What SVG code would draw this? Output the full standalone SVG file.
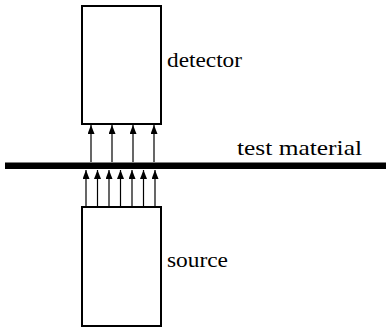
<svg xmlns="http://www.w3.org/2000/svg" width="386" height="327" viewBox="0 0 386 327">
<defs>
<style>
.box{fill:#fff;stroke:#000;stroke-width:2}
.ray{stroke:#000;stroke-width:1.2;fill:none;marker-end:url(#ah)}
.lbl{font-size:21px;fill:#000}
</style>
<marker id="ah" viewBox="0 0 9 7" refX="9" refY="3.5" markerWidth="9" markerHeight="7" markerUnits="userSpaceOnUse" orient="auto">
<path d="M0,0 L9,3.5 L0,7 Z" fill="#000"/>
</marker>
</defs>
<rect x="0" y="0" width="386" height="327" fill="#fff"/>
<g id="detector">
<rect class="box" x="82" y="6" width="79" height="118"/>
<text class="lbl" font-family="Liberation Serif, DejaVu Serif, serif" x="167" y="67" textLength="75" lengthAdjust="spacingAndGlyphs">detector</text>
</g>
<g id="source">
<rect class="box" x="82" y="207" width="79" height="119"/>
<text class="lbl" font-family="Liberation Serif, DejaVu Serif, serif" x="167" y="267" textLength="61" lengthAdjust="spacingAndGlyphs">source</text>
</g>
<g id="test-material">
<rect x="5" y="162.5" width="381" height="6.5" fill="#000"/>
<text class="lbl" font-family="Liberation Serif, DejaVu Serif, serif" x="237" y="155" textLength="125" lengthAdjust="spacingAndGlyphs">test material</text>
</g>
<g id="connectors">
<path class="ray" d="M91,162 V125"/>
<path class="ray" d="M112,162 V125"/>
<path class="ray" d="M133,162 V125"/>
<path class="ray" d="M154,162 V125"/>
<path class="ray" d="M86,206 V170"/>
<path class="ray" d="M97.5,206 V170"/>
<path class="ray" d="M109,206 V170"/>
<path class="ray" d="M120.5,206 V170"/>
<path class="ray" d="M132,206 V170"/>
<path class="ray" d="M143.5,206 V170"/>
<path class="ray" d="M155,206 V170"/>
</g>
</svg>
